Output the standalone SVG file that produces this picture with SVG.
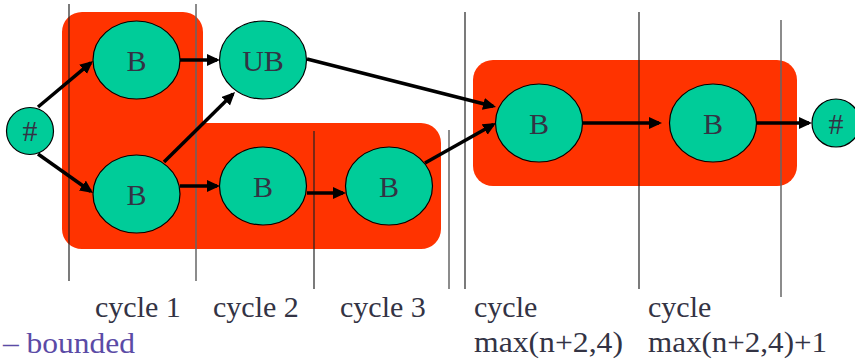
<svg xmlns="http://www.w3.org/2000/svg" width="855" height="360" viewBox="0 0 855 360">
<style>
.bg{fill:#FF3300}
.nd{fill:#00CC99;stroke:#000;stroke-width:1.2}
.nt{font-family:'Liberation Serif','Times New Roman',serif;font-size:30px;fill:#333344;text-anchor:middle}
.lb{font-family:'Liberation Serif','Times New Roman',serif;font-size:30px;fill:#333344}
.vl{stroke:#222;stroke-width:1.2}
.vg{stroke:#666;stroke-width:1.5}
.ed{stroke:#000;stroke-width:3.5;fill:none;marker-end:url(#ah)}
</style>
<defs>
<marker id="ah" markerUnits="userSpaceOnUse" markerWidth="15" markerHeight="13" refX="10" refY="6" orient="auto">
<path d="M0,0 L13,6 L0,12 Z" fill="#000"/>
</marker>
</defs>
<rect width="855" height="360" fill="#fff"/>
<g id="backgrounds">
<path class="bg" d="M82,12 H183 A20,20 0 0 1 203,32 V123 H421 A20,20 0 0 1 441,143 V229 A20,20 0 0 1 421,249 H82 A20,20 0 0 1 62,229 V32 A20,20 0 0 1 82,12 Z"/>
<rect class="bg" x="473" y="60" width="324" height="126" rx="20"/>
</g>
<g id="cycle-lines">
<line class="vl" x1="69" y1="4" x2="69" y2="281"/>
<line class="vg" x1="196" y1="4" x2="196" y2="281"/>
<line class="vl" x1="314" y1="131" x2="314" y2="289"/>
<line class="vg" x1="449" y1="130" x2="449" y2="289"/>
<line class="vl" x1="465" y1="12" x2="465" y2="289"/>
<line class="vl" x1="639" y1="12" x2="639" y2="289"/>
<line class="vg" x1="781" y1="20" x2="781" y2="297"/>
</g>
<g id="connectors">
<line class="ed" x1="38" y1="107" x2="90.7" y2="62.9"/>
<line class="ed" x1="38" y1="154" x2="90.6" y2="191.3"/>
<line class="ed" x1="180" y1="60" x2="217" y2="60"/>
<line class="ed" x1="164" y1="162" x2="232.9" y2="94.1"/>
<line class="ed" x1="180" y1="186" x2="217" y2="186"/>
<line class="ed" x1="307" y1="193" x2="343" y2="193"/>
<line class="ed" x1="307" y1="59" x2="493.1" y2="106.3"/>
<line class="ed" x1="425" y1="163" x2="493.4" y2="124.5"/>
<line class="ed" x1="582" y1="123" x2="659" y2="123"/>
<line class="ed" x1="756" y1="123" x2="809" y2="123"/>
</g>
<g id="start"><circle class="nd" cx="30" cy="131" r="23.5"/><text class="nt" x="30" y="141">#</text></g>
<g id="b1"><ellipse class="nd" cx="136.5" cy="60" rx="43.5" ry="39"/><text class="nt" x="136.5" y="71">B</text></g>
<g id="ub"><ellipse class="nd" cx="263" cy="60" rx="43.5" ry="39"/><text class="nt" x="263" y="71">UB</text></g>
<g id="b2"><ellipse class="nd" cx="136.5" cy="194" rx="43.5" ry="39"/><text class="nt" x="136.5" y="205">B</text></g>
<g id="b3"><ellipse class="nd" cx="263" cy="186" rx="43.5" ry="39"/><text class="nt" x="263" y="197">B</text></g>
<g id="b4"><ellipse class="nd" cx="389" cy="186" rx="43.5" ry="39"/><text class="nt" x="389" y="197">B</text></g>
<g id="b5"><ellipse class="nd" cx="539" cy="123" rx="43.5" ry="39"/><text class="nt" x="539" y="134">B</text></g>
<g id="b6"><ellipse class="nd" cx="713" cy="123" rx="43.5" ry="39"/><text class="nt" x="713" y="134">B</text></g>
<g id="end"><circle class="nd" cx="836" cy="123" r="24"/><text class="nt" x="836" y="134">#</text></g>
<g id="labels">
<text class="lb" x="95" y="317">cycle 1</text>
<text class="lb" x="213" y="317">cycle 2</text>
<text class="lb" x="340" y="317">cycle 3</text>
<text class="lb" x="474" y="317">cycle</text>
<text class="lb" x="648" y="317">cycle</text>
<text class="lb" x="474" y="352" textLength="149" lengthAdjust="spacingAndGlyphs">max(n+2,4)</text>
<text class="lb" x="648" y="352" textLength="179" lengthAdjust="spacingAndGlyphs">max(n+2,4)+1</text>
<text class="lb" x="3" y="353" style="fill:#5B4BA6" textLength="132" lengthAdjust="spacingAndGlyphs">– bounded</text>
</g>
</svg>
